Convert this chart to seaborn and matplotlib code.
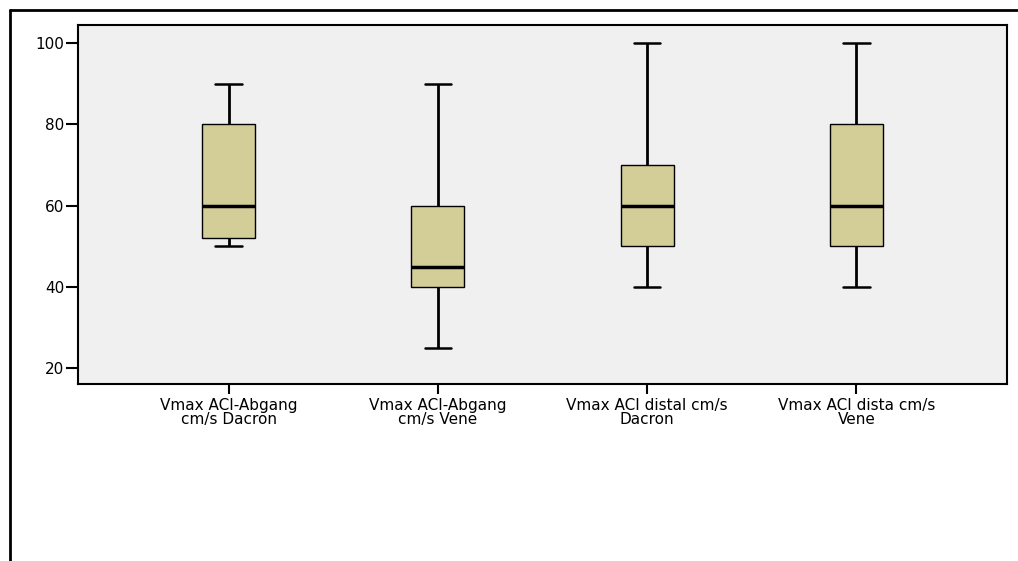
import matplotlib
matplotlib.use("Agg")
import matplotlib.pyplot as plt
from matplotlib.lines import Line2D
import pandas as pd
import seaborn as sns

# Five-number summaries (min, Q1, median, Q3, max) for each measurement
labels = [
    "Vmax ACI-Abgang\ncm/s Dacron",
    "Vmax ACI-Abgang\ncm/s Vene",
    "Vmax ACI distal cm/s\nDacron",
    "Vmax ACI dista cm/s\nVene",
]
abgang_dacron = [50, 52, 60, 80, 90]
abgang_vene = [25, 40, 45, 60, 90]
distal_dacron = [40, 50, 60, 70, 100]
distal_vene = [40, 50, 60, 80, 100]
y_ticks = [20, 40, 60, 80, 100]

series = [abgang_dacron, abgang_vene, distal_dacron, distal_vene]
df = pd.DataFrame(
    [(lab, v) for lab, vals in zip(labels, series) for v in vals],
    columns=["variable", "value"],
)

sns.set_theme(style="white")
plt.rcParams["font.family"] = ["DejaVu Sans"]

fig = plt.figure(figsize=(10.18, 5.61), dpi=100)
ax = fig.add_axes([0.0766, 0.3155, 0.9126, 0.6399])
ax.set_facecolor("#F0F0F0")

sns.boxplot(
    data=df, x="variable", y="value", ax=ax,
    whis=(0, 100), width=0.254, color="#D3CE98", saturation=1,
    linecolor="black", linewidth=1.0,
    medianprops=dict(color="black", linewidth=2.5),
    whiskerprops=dict(color="black", linewidth=2.0),
    capprops=dict(color="black", linewidth=1.8),
    showfliers=False,
)

ax.set_xlim(-0.72, 3.72)
ax.set_ylim(16.1, 104.4)
ax.set_yticks(y_ticks)
ax.set_yticklabels([str(t) for t in y_ticks])
ax.set_xlabel("")
ax.set_ylabel("")

for s in ax.spines.values():
    s.set_color("black")
    s.set_linewidth(1.5)

ax.tick_params(axis="y", direction="out", length=9, width=1.5, color="black",
               labelsize=11, labelcolor="black", pad=1, left=True)
ax.tick_params(axis="x", direction="out", length=7, width=1.5, color="black",
               labelsize=11, labelcolor="black", pad=3, bottom=True)
for t in ax.get_xticklabels():
    t.set_linespacing(0.92)
ax.grid(False)

# Outer chart frame (top and left edges)
fig.add_artist(Line2D([0.0098, 0.999], [0.982, 0.982], color="black",
                      linewidth=2, transform=fig.transFigure))
fig.add_artist(Line2D([0.0098, 0.0098], [0.0, 0.982], color="black",
                      linewidth=2, transform=fig.transFigure))

fig.savefig("out.png", dpi=100)
